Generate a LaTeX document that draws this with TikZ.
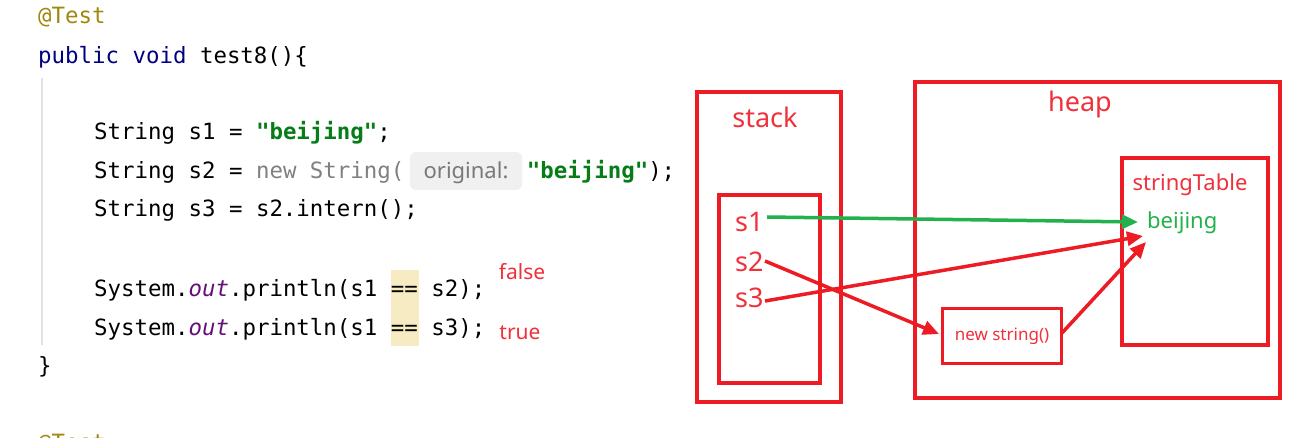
\documentclass[tikz,border=0pt]{standalone}
\usepackage{fontspec}
\setmainfont{Noto Sans}
\newfontfamily\codefont{DejaVu Sans Mono}
\usetikzlibrary{arrows.meta}
\definecolor{annot}{RGB}{158,136,13}
\definecolor{kw}{RGB}{0,0,128}
\definecolor{str}{RGB}{6,125,23}
\definecolor{dim}{RGB}{128,128,128}
\definecolor{field}{RGB}{102,14,122}
\definecolor{hl}{RGB}{246,235,194}
\definecolor{hintbg}{RGB}{240,240,240}
\definecolor{hinttx}{RGB}{120,120,120}
\definecolor{guide}{RGB}{226,226,226}
\definecolor{dred}{RGB}{237,28,36}
\definecolor{lred}{RGB}{240,48,58}
\definecolor{dgreen}{RGB}{34,177,76}
\tikzset{
  code/.style={anchor=base west, inner sep=0pt, font=\codefont\fontsize{22.4}{26}\selectfont},
  res/.style={anchor=center, inner sep=0pt, text=lred, font=\fontsize{21}{25}\selectfont},
  box/.style={draw=dred, line width=3.8pt, inner sep=0pt},
  lbl/.style={inner sep=0pt, text=lred},
  arr/.style={line width=3.5pt, -{Triangle[length=16pt,width=14pt]}},
}
\begin{document}
\begin{tikzpicture}[x=1pt,y=-1pt]
\useasboundingbox (0,0) rectangle (1306,438);
\clip (0,0) rectangle (1306,438);
\fill[white] (0,0) rectangle (1306,438);
% ---------- code ----------
\draw[guide, line width=1.5pt] (42,78) -- (42,345);
\fill[hl] (391,270) rectangle (418.5,346);
\node[draw=none, fill=hintbg, rounded corners=6pt, minimum width=112pt, minimum height=38pt, inner sep=0pt] (hint) at (466,171) {};
\node[inner sep=0pt, anchor=base, text=hinttx, font=\fontsize{22}{26}\selectfont] (hinttext) at (466,179) {original:};
\node[code] (c1) at (38,24) {\color{annot}@Test};
\node[code] (c2) at (38,64) {{\color{kw}public void} test8()\{};
\node[code] (c3) at (94,140) {String s1 = {\bfseries\color{str}"beijing"};};
\node[code] (c4) at (94,179) {String s2 = {\color{dim}new String(}\hspace{122.5pt}{\bfseries\color{str}"beijing"});};
\node[code] (c5) at (94,217) {String s3 = s2.intern();};
\node[code] (c6) at (94,296) {System.{\itshape\color{field}out}.println(s1 == s2);};
\node[code] (c7) at (94,335) {System.{\itshape\color{field}out}.println(s1 == s3);};
\node[code] (c8) at (38,373) {\}};
\node[code] (c9) at (38,450) {\color{annot}@Test};
\node[res] (rf) at (522,272) {false};
\node[res] (rt) at (520,333) {true};
% ---------- diagram ----------
\node[box, minimum width=144pt, minimum height=310pt] (stack) at (769,247) {};
\node[box, minimum width=101pt, minimum height=188pt] (stackin) at (769.5,289) {};
\node[box, minimum width=365pt, minimum height=316pt] (heap) at (1097.5,240) {};
\node[box, minimum width=146pt, minimum height=187pt] (table) at (1195,251.5) {};
\node[box, minimum width=119pt, minimum height=55pt, font=\fontsize{17}{20}\selectfont, text=lred] (ns) at (1002,336) {new string()};
\node[lbl, font=\fontsize{27}{32}\selectfont] (stacklbl) at (765,117) {stack};
\node[lbl, font=\fontsize{27}{32}\selectfont] (heaplbl) at (1080,104) {heap};
\node[lbl, font=\fontsize{22}{26}\selectfont] (tablelbl) at (1190,185) {stringTable};
\node[inner sep=0pt, text=dgreen, font=\fontsize{22}{26}\selectfont, anchor=west] (bj) at (1147,223) {beijing};
\node[lbl, font=\fontsize{27}{30}\selectfont, anchor=west] (s1) at (735,222) {s1};
\node[lbl, font=\fontsize{27}{30}\selectfont, anchor=west] (s2) at (735,262) {s2};
\node[lbl, font=\fontsize{27}{30}\selectfont, anchor=west] (s3) at (735,298) {s3};
\coordinate (s1o) at (767,217);
\coordinate (s2o) at (765,261);
\coordinate (s3o) at (765,301);
\coordinate (bjg) at (1138,222);
\coordinate (bjr) at (1143,236);
\coordinate (bjn) at (1146,242);
\coordinate (nsi) at (939,334);
\coordinate (nso) at (1062,333);
\draw[arr, dgreen] (s1o) -- (bjg);
\draw[arr, dred] (s3o) -- (bjr);
\draw[arr, dred] (s2o) -- (nsi);
\draw[arr, dred] (nso) -- (bjn);
\end{tikzpicture}
\end{document}
